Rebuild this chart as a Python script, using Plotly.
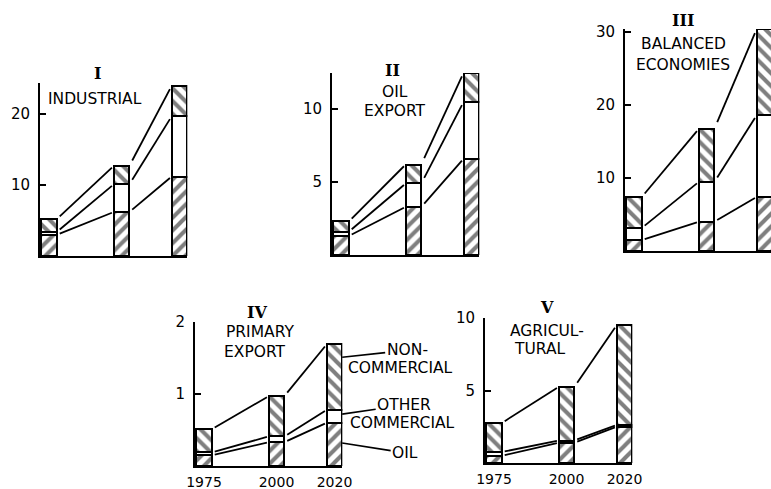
import plotly.graph_objects as go

W, H = 771, 489
YEARS = [1975, 2000, 2020]
YEAR_LABELS = ["1975", "2000", "2020"]

# Panel I - Industrial (segment values: oil, other commercial, non-commercial)
OIL_I = [3.0, 6.2, 11.2]
OTHER_I = [0.4, 3.9, 8.5]
NONCOM_I = [1.8, 2.6, 4.3]
TICKS_I = [10, 20]

# Panel II - Oil export
OIL_II = [1.3, 3.3, 6.6]
OTHER_II = [0.3, 1.6, 3.9]
NONCOM_II = [0.7, 1.3, 2.0]
TICKS_II = [5, 10]

# Panel III - Balanced economies
OIL_III = [1.5, 4.0, 7.4]
OTHER_III = [1.65, 5.45, 11.2]
NONCOM_III = [4.25, 7.25, 11.8]
TICKS_III = [10, 20, 30]

# Panel IV - Primary export
OIL_IV = [0.15, 0.33, 0.60]
OTHER_IV = [0.04, 0.08, 0.18]
NONCOM_IV = [0.32, 0.56, 0.91]
TICKS_IV = [1, 2]

# Panel V - Agricultural
OIL_V = [0.5, 1.4, 2.5]
OTHER_V = [0.26, 0.15, 0.12]
NONCOM_V = [2.0, 3.7, 6.88]
TICKS_V = [5, 10]

FONT = "DejaVu Sans"
SERIF = "DejaVu Serif"

def px_x(p):
    return p / W

def px_y(p):
    return 1 - p / H

B = 2.9        # px per year
X0 = 1971.9    # left end of x axes (years)
X1 = 2022.7
BW = 5.4       # bar width in years
GAP = 1.0

panels = [
    dict(roman="I", labels=[("INDUSTRIAL", 95, 99)], rom_pos=(97, 73),
         oil=OIL_I, other=OTHER_I, non=NONCOM_I, ticks=TICKS_I,
         left=40, top=83, bottom=256, ymax=24.4, years=False),
    dict(roman="II", labels=[("OIL", 395, 92), ("EXPORT", 395, 111)], rom_pos=(392, 70),
         oil=OIL_II, other=OTHER_II, non=NONCOM_II, ticks=TICKS_II,
         left=332, top=73, bottom=255, ymax=12.47, years=False),
    dict(roman="III", labels=[("BALANCED", 683, 44), ("ECONOMIES", 683, 65)], rom_pos=(683, 21),
         oil=OIL_III, other=OTHER_III, non=NONCOM_III, ticks=TICKS_III,
         left=625, top=29, bottom=251, ymax=30.4, years=False),
    dict(roman="IV", labels=[("PRIMARY", 260, 332), ("EXPORT", 255, 352)], rom_pos=(257, 312),
         oil=OIL_IV, other=OTHER_IV, non=NONCOM_IV, ticks=TICKS_IV,
         left=195, top=322, bottom=466, ymax=2.0, years=True),
    dict(roman="V", labels=[("AGRICUL-", 547, 331), ("TURAL", 540, 349)], rom_pos=(547, 307),
         oil=OIL_V, other=OTHER_V, non=NONCOM_V, ticks=TICKS_V,
         left=485, top=318, bottom=463, ymax=10.0, years=True),
]

HATCH = dict(fgcolor="black", bgcolor="white", size=9, solidity=0.45)

fig = go.Figure()
annotations = []
layout_axes = {}

for k, p in enumerate(panels, start=1):
    xa = "x" if k == 1 else f"x{k}"
    ya = "y" if k == 1 else f"y{k}"
    right_px = min(p["left"] + (X1 - X0) * B, W)
    x_end = X0 + (right_px - p["left"]) / B

    series = [
        (p["oil"], dict(shape="/", **HATCH)),
        (p["other"], None),
        (p["non"], dict(shape="\\", **HATCH)),
    ]
    for vals, pat in series:
        marker = dict(color="white", line=dict(color="black", width=2))
        if pat:
            marker["pattern"] = pat
        fig.add_trace(go.Bar(x=YEARS, y=vals, width=BW, xaxis=xa, yaxis=ya,
                             marker=marker, hoverinfo="skip"))

    # connecting lines between boundaries
    cum1 = list(p["oil"])
    cum2 = [a + b for a, b in zip(p["oil"], p["other"])]
    cum3 = [a + b + c for a, b, c in zip(p["oil"], p["other"], p["non"])]
    lx, ly = [], []
    for lev in (cum1, cum2, cum3):
        for i in range(len(YEARS) - 1):
            xs = YEARS[i] + BW / 2
            xe = YEARS[i + 1] - BW / 2
            slope = (lev[i + 1] - lev[i]) / (xe - xs)
            a = xs + GAP
            b = xe - GAP * 0.6
            lx += [a, b, None]
            ly += [lev[i] + slope * (a - xs), lev[i] + slope * (b - xs), None]
    fig.add_trace(go.Scatter(x=lx, y=ly, mode="lines", xaxis=xa, yaxis=ya,
                             line=dict(color="black", width=1.8), hoverinfo="skip"))

    xkey = "xaxis" if k == 1 else f"xaxis{k}"
    ykey = "yaxis" if k == 1 else f"yaxis{k}"
    layout_axes[xkey] = dict(
        domain=[px_x(p["left"]), px_x(right_px)], range=[X0, x_end], anchor=ya,
        automargin=False,
        showline=True, linecolor="black", linewidth=2, showgrid=False, zeroline=False,
        ticks="", tickvals=YEARS if p["years"] else [], ticktext=YEAR_LABELS if p["years"] else [],
        showticklabels=p["years"], tickfont=dict(family=FONT, size=14, color="black"),
        ticklabelstandoff=2,
    )
    layout_axes[ykey] = dict(
        domain=[px_y(p["bottom"]), px_y(p["top"])], range=[0, p["ymax"]], anchor=xa,
        automargin=False,
        showline=True, linecolor="black", linewidth=2, showgrid=False, zeroline=False,
        ticks="inside", ticklen=6, tickwidth=2, tickcolor="black",
        tickvals=p["ticks"], ticktext=[str(t) for t in p["ticks"]],
        tickfont=dict(family=FONT, size=15, color="black"), ticklabelstandoff=5,
    )

    rx, ry = p["rom_pos"]
    annotations.append(dict(text=f"<b>{p['roman']}</b>", x=px_x(rx), y=px_y(ry),
                            xref="paper", yref="paper", xanchor="center", yanchor="middle",
                            showarrow=False, font=dict(family=SERIF, size=16, color="black")))
    for txt, tx, ty in p["labels"]:
        annotations.append(dict(text=txt, x=px_x(tx), y=px_y(ty), xref="paper", yref="paper",
                                xanchor="center", yanchor="middle",
                                showarrow=False, font=dict(family=FONT, size=15.5, color="black")))

# legend pointers in panel IV
leg_font = dict(family=FONT, size=15.5, color="black")
head_x = 2020 + BW / 2 - 0.05
pointers = [
    ("NON-", 1.51, 65, -7),
    ("OTHER", 0.72, 62, -9),
    ("OIL", 0.32, 63, 10),
]
for txt, yv, ax, ay in pointers:
    annotations.append(dict(text=txt, x=head_x, y=yv, xref="x4", yref="y4",
                            showarrow=True, arrowhead=0, arrowwidth=1.6, arrowcolor="black",
                            ax=ax, ay=ay, standoff=0, font=leg_font))
annotations.append(dict(text="COMMERCIAL", x=px_x(400), y=px_y(368), xref="paper", yref="paper",
                        xanchor="center", yanchor="middle", showarrow=False, font=leg_font))
annotations.append(dict(text="COMMERCIAL", x=px_x(402), y=px_y(423), xref="paper", yref="paper",
                        xanchor="center", yanchor="middle", showarrow=False, font=leg_font))

fig.update_layout(
    width=W, height=H, margin=dict(l=0, r=0, t=0, b=0, pad=0),
    paper_bgcolor="white", plot_bgcolor="white",
    barmode="stack", showlegend=False, annotations=annotations,
    **layout_axes,
)

fig.write_html("out.html", config={"displayModeBar": False, "staticPlot": True},
               post_script="document.body.style.margin='0';document.body.style.overflow='hidden';")
